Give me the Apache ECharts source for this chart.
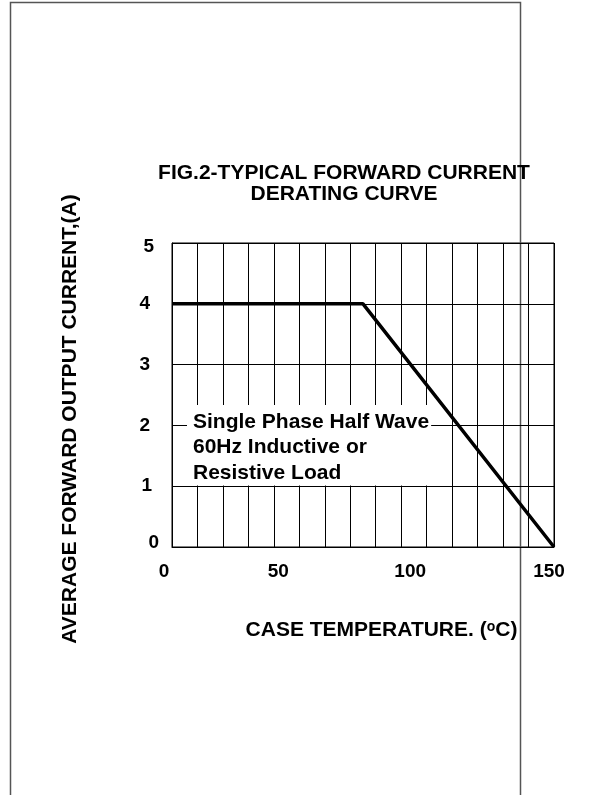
<!DOCTYPE html>
<html>
<head>
<meta charset="utf-8">
<script src="https://cdn.jsdelivr.net/npm/echarts@6/dist/echarts.min.js"></script>
<style>
  html, body { margin: 0; padding: 0; background: #fff; }
  #chart { width: 612px; height: 795px; }
</style>
</head>
<body>
<div id="chart"></div>
<script>
// derating curve
const caseTemp = [0, 75, 150];
const avgCurrent = [4, 4, 0];
const xTickLabels = [0, 50, 100, 150];
const yTickLabels = [0, 1, 2, 3, 4, 5];
const noteLines = ['Single Phase Half Wave', '60Hz Inductive or', 'Resistive Load'];

const FONT = '"Liberation Sans", Arial, sans-serif';

// the printed tick labels sit a little off their grid lines
const xNudge = { 0: 16, 50: 42, 100: 33, 150: 10 };
const yNudge = { 0: [0, 0, 8, 0], 1: [0, 7, 0, 0], 2: [0, 9, 0, 0], 3: [0, 9, 0, 0], 4: [0, 9, 0, 0], 5: [8, 5, 0, 0] };

const xRich = {};
xTickLabels.forEach((v) => {
  xRich['x' + v] = { fontFamily: FONT, fontSize: 19, fontWeight: 'bold', color: '#000', padding: [0, xNudge[v], 0, 0] };
});
const yRich = {};
yTickLabels.forEach((v) => {
  yRich['y' + v] = { fontFamily: FONT, fontSize: 19, fontWeight: 'bold', color: '#000', padding: yNudge[v] };
});

const chart = echarts.init(document.getElementById('chart'));

chart.setOption({
  animation: false,
  backgroundColor: '#fff',
  title: {
    text: 'FIG.2-TYPICAL FORWARD CURRENT\nDERATING CURVE',
    left: 339,
    top: 158,
    textAlign: 'center',
    textStyle: { fontFamily: FONT, fontSize: 21, fontWeight: 'bold', color: '#000', lineHeight: 21 }
  },
  grid: {
    left: 172,
    top: 243,
    width: 382,
    height: 304,
    show: true,
    borderColor: '#000',
    borderWidth: 1,
    containLabel: false
  },
  xAxis: {
    type: 'value',
    min: 0,
    max: 150,
    interval: 10,
    axisLine: { show: true, lineStyle: { color: '#000', width: 1 } },
    axisTick: { show: false },
    splitLine: { show: true, lineStyle: { color: '#000', width: 1 } },
    axisLabel: {
      margin: 15,
      formatter: (v) => (xTickLabels.indexOf(v) >= 0 ? '{x' + v + '|' + v + '}' : ''),
      rich: xRich
    },
    name: '{a|CASE TEMPERATURE. (}{s|o}{a|C)}',
    nameLocation: 'middle',
    nameGap: 73,
    nameTextStyle: {
      padding: [0, 0, 0, 37],
      rich: {
        a: { fontFamily: FONT, fontSize: 21, fontWeight: 'bold', color: '#000', lineHeight: 21 },
        s: { fontFamily: FONT, fontSize: 14, fontWeight: 'bold', color: '#000', lineHeight: 12, verticalAlign: 'top' }
      }
    }
  },
  yAxis: {
    type: 'value',
    min: 0,
    max: 5,
    interval: 1,
    axisLine: { show: true, lineStyle: { color: '#000', width: 1 } },
    axisTick: { show: false },
    splitLine: { show: true, lineStyle: { color: '#000', width: 1 } },
    axisLabel: {
      margin: 13,
      formatter: (v) => '{y' + v + '|' + v + '}',
      rich: yRich
    },
    name: 'AVERAGE FORWARD OUTPUT CURRENT,(A)',
    nameLocation: 'middle',
    nameGap: 91,
    nameTextStyle: {
      fontFamily: FONT, fontSize: 21, fontWeight: 'bold', color: '#000',
      padding: [0, 48, 0, 0]
    }
  },
  graphic: [
    {
      type: 'rect',
      silent: true,
      z: 0,
      shape: { x: 10.5, y: 2.5, width: 510, height: 820 },
      style: { fill: 'none', stroke: '#555', lineWidth: 1.5 }
    },
    {
      type: 'text',
      silent: true,
      z: 1,
      x: 187,
      y: 405,
      style: {
        text: noteLines.join('\n'),
        font: 'bold 21px ' + FONT,
        fill: '#000',
        lineHeight: 25.5,
        backgroundColor: '#fff',
        padding: [4, 2, 0, 6]
      }
    }
  ],
  series: [{
    type: 'line',
    z: 5,
    symbol: 'none',
    data: caseTemp.map((t, i) => [t, avgCurrent[i]]),
    lineStyle: { color: '#000', width: 3.5 }
  }]
});
</script>
</body>
</html>
